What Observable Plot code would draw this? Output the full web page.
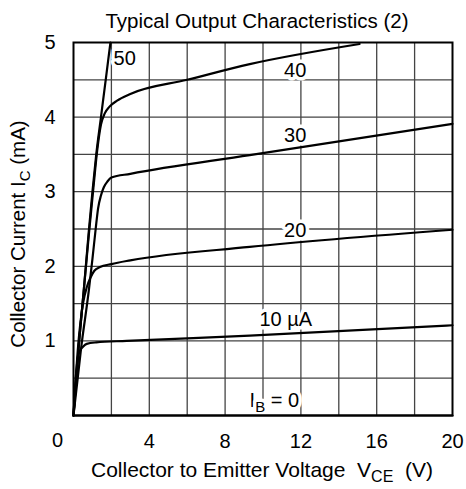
<!DOCTYPE html>
<html><head><meta charset="utf-8">
<script src="https://cdn.jsdelivr.net/npm/d3@7"></script>
<script src="https://cdn.jsdelivr.net/npm/@observablehq/plot@0.6"></script>
<style>
body{margin:0;background:#fff;}
svg{font-family:"Liberation Sans",Arial,sans-serif;}
</style>
</head><body><div id="chart"></div>
<script>
// Curves: collector-emitter voltage (V) vs collector current (mA), per base current
const v0  = [0, 20];
const i0  = [0, 0];
const v10 = [0, 0.15, 0.3, 0.5, 0.7, 1.2, 2.8, 9.3, 20];
const i10 = [0, 0.6, 0.85, 0.92, 0.96, 0.98, 1.0, 1.07, 1.21];
const v20 = [0, 0.25, 0.5, 0.7, 0.9, 1.1, 1.4, 2, 3, 9.3, 20];
const i20 = [0, 0.95, 1.5, 1.72, 1.85, 1.94, 1.99, 2.03, 2.08, 2.26, 2.49];
const v30 = [0, 0.4, 0.82, 1.0, 1.17, 1.3, 1.45, 1.6, 1.8, 2.0, 3, 9.3, 20];
const i30 = [0, 0.9, 1.7, 2.1, 2.5, 2.78, 2.95, 3.06, 3.14, 3.19, 3.24, 3.49, 3.91];
const v40 = [0, 0.3, 0.55, 0.82, 1.05, 1.25, 1.45, 1.65, 1.9, 2.3, 3, 6, 9.3, 15.1];
const i40 = [0, 1.0, 1.7, 2.45, 3.05, 3.55, 3.9, 4.05, 4.14, 4.22, 4.31, 4.5, 4.71, 4.98];
const v50 = [0, 0.3, 0.55, 0.8, 1.0, 1.2, 1.45, 1.7, 1.95];
const i50 = [0, 1.0, 1.7, 2.45, 3.0, 3.5, 4.0, 4.5, 5.0];

const seriesNames = ["0", "10", "20", "30", "40", "50"];
const seriesV = [v0, v10, v20, v30, v40, v50];
const seriesI = [i0, i10, i20, i30, i40, i50];

// Curve labels
const labelText = ["IB = 0", "10 µA", "20", "30", "40", "50"];
const labelV = [10.6, 11.2, 11.7, 11.7, 11.7, 2.7];
const labelI = [0.2, 1.29, 2.48, 3.75, 4.63, 4.78];

// Ticks and grid
const xTicks = [4, 8, 12, 16, 20];
const originTick = [0];
const yTicks = [1, 2, 3, 4, 5];
const xGrid = [2, 4, 6, 8, 10, 12, 14, 16, 18];
const yGrid = [0.5, 1, 1.5, 2, 2.5, 3, 3.5, 4, 4.5];

const rows = [];
seriesNames.forEach((s, k) => seriesV[k].forEach((v, j) => rows.push({ib: s, v, i: seriesI[k][j]})));
const labels = labelText.map((t, k) => ({t, v: labelV[k], i: labelI[k]}));

const W = 466, H = 489;
const plot = Plot.plot({
  width: W, height: H,
  marginLeft: 73, marginRight: 14, marginTop: 42, marginBottom: 74,
  style: {fontSize: "20px", fontFamily: "Liberation Sans, Arial, sans-serif", background: "#fff", overflow: "visible"},
  x: {domain: [0, 20], ticks: xTicks, tickSize: 0, tickPadding: 18, label: null, tickFormat: d3.format("d")},
  y: {domain: [0, 5], ticks: yTicks, tickSize: 0, tickPadding: 18, label: null, tickFormat: d3.format("d")},
  marks: [
    Plot.ruleX(xGrid, {stroke: "#444", strokeWidth: 1.3}),
    Plot.ruleY(yGrid, {stroke: "#444", strokeWidth: 1.3}),
    Plot.text(labels, {x: "v", y: "i", text: "t", fontSize: 20, fill: "black", stroke: "white", strokeWidth: 7, paintOrder: "stroke"}),
    Plot.line(rows, {x: "v", y: "i", z: "ib", stroke: "black", strokeWidth: 2.2, curve: "monotone-x"}),
    Plot.frame({stroke: "black", strokeWidth: 2}),
    Plot.text(originTick, {x: d => d, y: d => d, text: d => String(d), dx: -16, dy: 25, fontSize: 20, fill: "black"})
  ]
});
document.getElementById("chart").appendChild(plot);

const svg = d3.select(plot);
// subscript in "IB = 0" label
svg.selectAll("text").filter(function(){ return this.textContent === "IB = 0"; }).each(function(){
  const t = d3.select(this);
  t.text(null).style("white-space", "pre");
  t.append("tspan").text("I");
  t.append("tspan").attr("dy", 5).attr("font-size", 15).text("B");
  t.append("tspan").attr("dy", -5).text(" = 0");
});

// title
svg.append("text").attr("x", 257).attr("y", 28).attr("text-anchor", "middle")
  .attr("font-size", 20.5).attr("fill", "black").text("Typical Output Characteristics (2)");

// x axis label
const xl = svg.append("text").attr("x", 262).attr("y", 477).attr("text-anchor", "middle")
  .attr("font-size", 21).attr("fill", "black").style("white-space", "pre");
xl.append("tspan").text("Collector to Emitter Voltage  V");
xl.append("tspan").attr("dy", 5).attr("font-size", 16).text("CE");
xl.append("tspan").attr("dy", -5).text("  (V)");

// y axis label
const yl = svg.append("text").attr("transform", "translate(25,234) rotate(-90)").attr("text-anchor", "middle")
  .attr("font-size", 20.5).attr("fill", "black").style("white-space", "pre");
yl.append("tspan").text("Collector Current I");
yl.append("tspan").attr("dy", 5).attr("font-size", 15).text("C");
yl.append("tspan").attr("dy", -5).text(" (mA)");
</script>
</body></html>
